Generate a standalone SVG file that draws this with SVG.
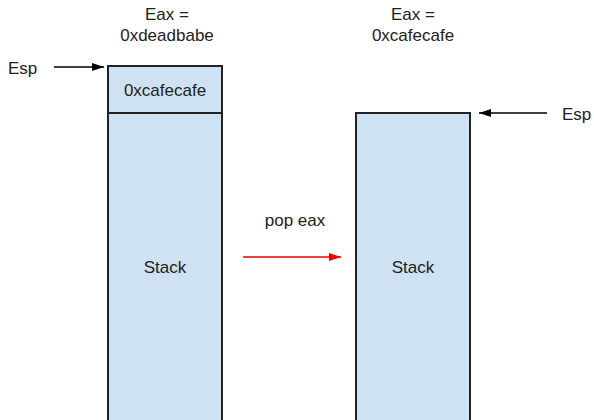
<svg xmlns="http://www.w3.org/2000/svg" width="594" height="420" viewBox="0 0 594 420">
<defs>
<style>
text{font-family:"Liberation Sans",Arial,sans-serif;font-size:17px;fill:#222}
.box{fill:#cfe2f3;stroke:#222;stroke-width:2}
.c{text-anchor:middle}
</style>
<marker id="ah" viewBox="0 0 12 8" refX="12" refY="4" markerWidth="12" markerHeight="8" orient="auto" markerUnits="userSpaceOnUse"><path d="M0,0 L12,4 L0,8 z" fill="#000"/></marker>
<marker id="ahr" viewBox="0 0 12 8" refX="12" refY="4" markerWidth="12" markerHeight="8" orient="auto" markerUnits="userSpaceOnUse"><path d="M0,0 L12,4 L0,8 z" fill="#e00"/></marker>
</defs>
<rect width="594" height="420" fill="#fff"/>
<g id="stack-left">
<rect class="box" x="108" y="66" width="114" height="370"/>
<line x1="108" y1="113" x2="222" y2="113" stroke="#222" stroke-width="2"/>
<text class="c" x="165" y="96">0xcafecafe</text>
<text class="c" x="165" y="273">Stack</text>
</g>
<g id="stack-right">
<rect class="box" x="356" y="113" width="114" height="323"/>
<text class="c" x="413" y="273">Stack</text>
</g>
<g id="labels">
<text class="c" x="167" y="20">Eax =</text>
<text class="c" x="167" y="41">0xdeadbabe</text>
<text class="c" x="413" y="20">Eax =</text>
<text class="c" x="413" y="41">0xcafecafe</text>
<text x="8" y="74">Esp</text>
<text x="562" y="120">Esp</text>
<text class="c" x="295" y="226">pop eax</text>
</g>
<g id="connectors">
<line x1="54" y1="67" x2="104" y2="67" stroke="#000" stroke-width="1.5" marker-end="url(#ah)"/>
<line x1="547" y1="113" x2="479" y2="113" stroke="#000" stroke-width="1.5" marker-end="url(#ah)"/>
<line x1="243" y1="257" x2="341" y2="257" stroke="#e00" stroke-width="1.5" marker-end="url(#ahr)"/>
</g>
</svg>
